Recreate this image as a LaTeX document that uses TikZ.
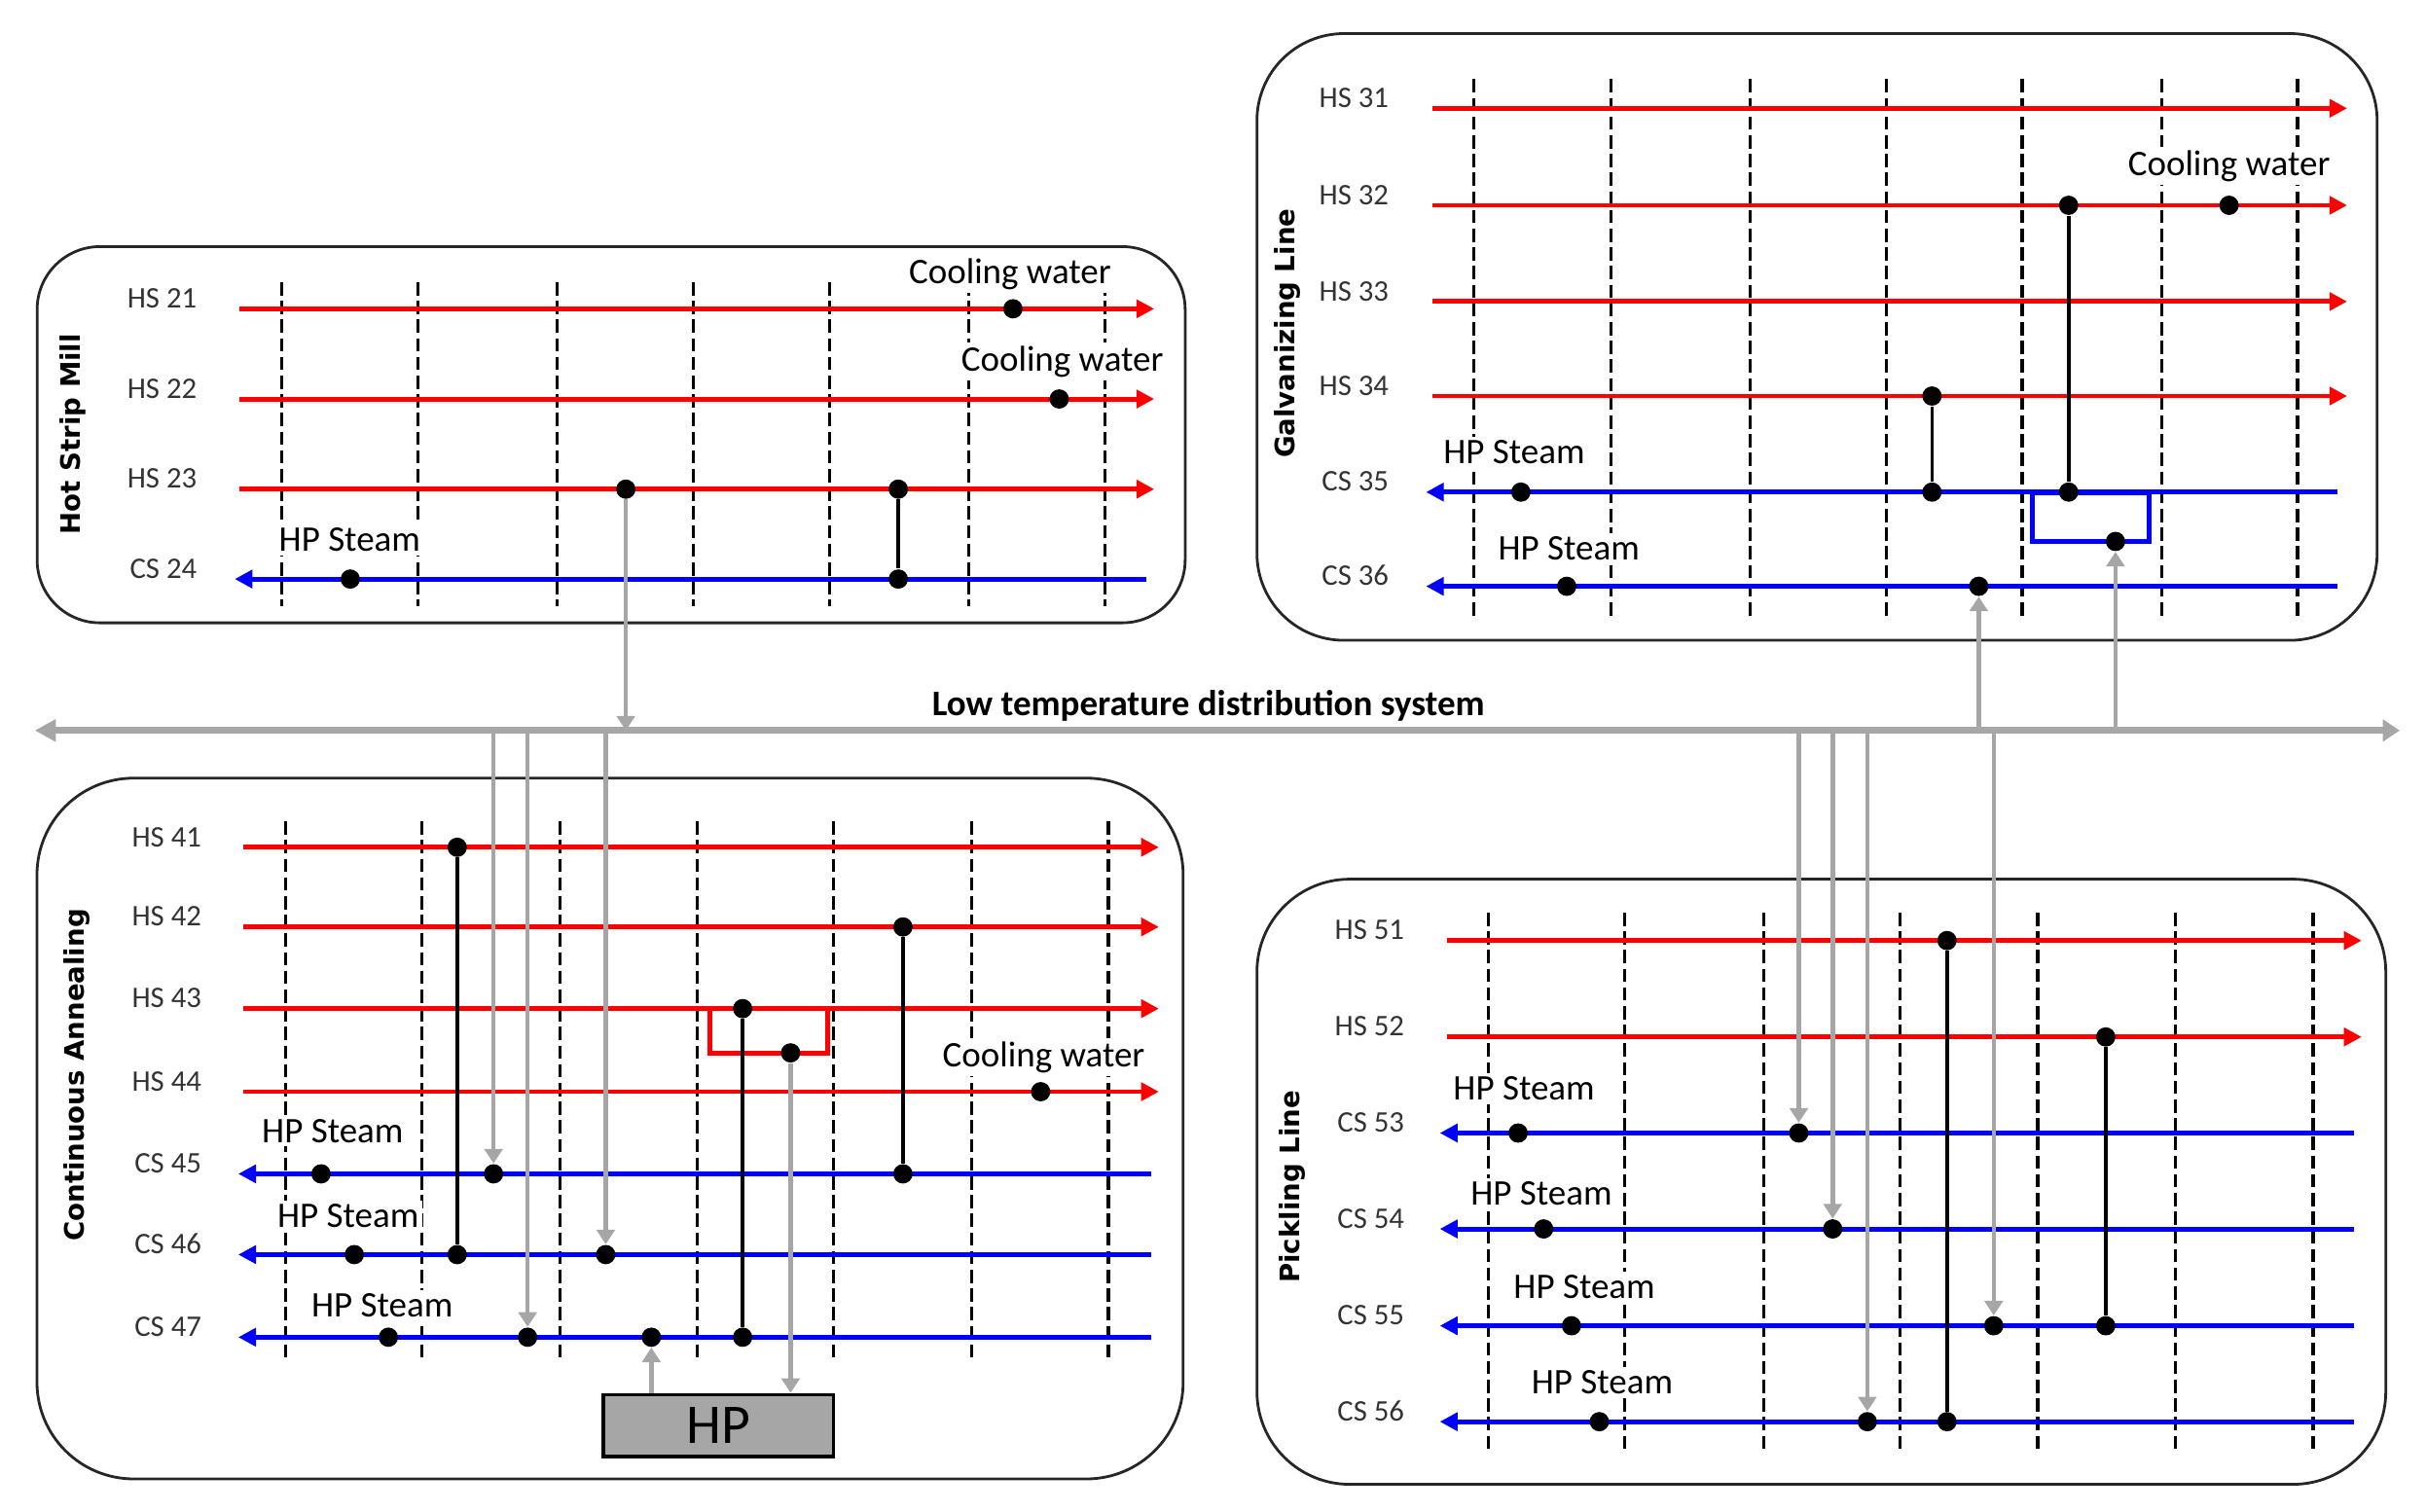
\documentclass[tikz,border=0pt]{standalone}
\usepackage{fontspec}
\setmainfont{Carlito}
\newfontfamily\zonefont{DejaVu Sans}
\usetikzlibrary{arrows.meta}
\definecolor{ltgray}{RGB}{166,166,166}
\tikzset{
  panel/.style={draw=black!85, line width=0.8pt},
  grid/.style={black, line width=0.9pt, dash pattern=on 3.9pt off 1.6pt},
  hot/.style={red, line width=1.4pt, -{Triangle[length=5.2pt,width=5.2pt]}},
  cold/.style={blue, line width=1.4pt, -{Triangle[length=5.2pt,width=5.2pt]}},
  dot/.style={circle, fill=black, inner sep=0pt, minimum size=0.2cm},
  match/.style={black, line width=1pt},
  ltd/.style={ltgray, line width=1.3pt, -{Triangle[length=4.3pt,width=5.3pt]}},
  main/.style={ltgray, line width=2.1pt, {Triangle[length=6.2pt,width=6.3pt]}-{Triangle[length=5pt,width=6.3pt]}},
  tag/.style={anchor=base east, inner sep=0pt, text=black!80, font=\fontsize{8.8}{10}\selectfont},
  util/.style={anchor=base, fill=white, inner sep=1pt, font=\fontsize{10.6}{12}\selectfont},
  zone/.style={rotate=90, font=\zonefont\bfseries\fontsize{7.9}{9}\selectfont},
  hpbox/.style={draw=black, line width=1pt, fill=ltgray, minimum width=2.38cm, minimum height=0.64cm, inner sep=0pt, font=\fontsize{16.5}{18}\selectfont}
}
\begin{document}
\begin{tikzpicture}[x=0.016cm, y=-0.016cm]
\useasboundingbox (0,0) rectangle (1568,977);

\draw[panel, rounded corners=0.65cm] (24,159.4) rectangle (766,402.6);
\draw[panel, rounded corners=0.9cm] (812.4,21.7) rectangle (1536.4,413.9);
\draw[panel, rounded corners=1cm] (23.9,503) rectangle (764.7,956);
\draw[panel, rounded corners=0.96cm] (812.4,568.3) rectangle (1542,959.5);

\node[zone] (hsm) at (47,280.6) {Hot Strip Mill};
\node[zone] (gal) at (832,215.6) {Galvanizing Line};
\node[zone] (can) at (50,695) {Continuous Annealing};
\node[zone] (pic) at (835,767.3) {Pickling Line};

\foreach \x in {182,270,360,448,536,626,714} \draw[grid] (\x,182.4) -- (\x,392);
\foreach \x in {952.3,1041,1131,1219,1307,1397,1485} \draw[grid] (\x,51.2) -- (\x,398.5);
\foreach \x in {184.6,272.6,362,450.7,538.8,627.9,716.4} \draw[grid] (\x,530.9) -- (\x,880);
\foreach \x in {962,1050,1140,1228,1317,1406,1495} \draw[grid] (\x,589.9) -- (\x,936.6);

\node[util] (cw21) at (652.8,183.2) {Cooling water};
\node[util] (cw22) at (686.6,239.8) {Cooling water};
\node[util] (hp24) at (226,356.5) {HP Steam};
\node[util] (cw32) at (1440.7,113.6) {Cooling water};
\node[util] (hp35) at (978.6,299.5) {HP Steam};
\node[util] (hp36) at (1014,362.1) {HP Steam};
\node[util] (cw44) at (674.6,689.5) {Cooling water};
\node[util] (hp45) at (215,738.5) {HP Steam};
\node[util] (hp46) at (225,793.5) {HP Steam};
\node[util] (hp47) at (247,851.5) {HP Steam};
\node[util] (hp53) at (985,711.3) {HP Steam};
\node[util] (hp54) at (996.2,779) {HP Steam};
\node[util] (hp55) at (1024,839.4) {HP Steam};
\node[util] (hp56) at (1035.6,900.9) {HP Steam};

\foreach \n/\y in {21/199.6,22/257.9,23/316.2}{
  \node[tag] (t\n) at (127.6,\y-0.5) {HS \n};
  \coordinate (s\n) at (154.7,\y); \coordinate (e\n) at (746,\y);
  \draw[hot] (s\n) -- (e\n);
}
\node[tag] (t24) at (127.6,373.8) {CS 24};
\coordinate (s24) at (741,374.3); \coordinate (e24) at (151.7,374.3);
\draw[cold] (s24) -- (e24);

\foreach \n/\y in {31/70,32/132.7,33/194.9,34/256}{
  \node[tag] (t\n) at (898,\y-0.5) {HS \n};
  \coordinate (s\n) at (925.6,\y); \coordinate (e\n) at (1517,\y);
  \draw[hot] (s\n) -- (e\n);
}
\foreach \n/\y in {35/318.1,36/379}{
  \node[tag] (t\n) at (898,\y-0.5) {CS \n};
  \coordinate (s\n) at (1511,\y); \coordinate (e\n) at (921.7,\y);
  \draw[cold] (s\n) -- (e\n);
}

\foreach \n/\y in {41/547.7,42/599.2,43/652,44/705.7}{
  \node[tag] (t\n) at (130.6,\y-0.5) {HS \n};
  \coordinate (s\n) at (157,\y); \coordinate (e\n) at (749,\y);
  \draw[hot] (s\n) -- (e\n);
}
\foreach \n/\y in {45/758.8,46/811,47/864.4}{
  \node[tag] (t\n) at (130.6,\y-0.5) {CS \n};
  \coordinate (s\n) at (744,\y); \coordinate (e\n) at (154,\y);
  \draw[cold] (s\n) -- (e\n);
}

\foreach \n/\y in {51/608,52/670.3}{
  \node[tag] (t\n) at (908,\y-0.5) {HS \n};
  \coordinate (s\n) at (935,\y); \coordinate (e\n) at (1526.4,\y);
  \draw[hot] (s\n) -- (e\n);
}
\foreach \n/\y in {53/732.4,54/794.4,55/857,56/919}{
  \node[tag] (t\n) at (908,\y-0.5) {CS \n};
  \coordinate (s\n) at (1521.5,\y); \coordinate (e\n) at (930.6,\y);
  \draw[cold] (s\n) -- (e\n);
}

\draw[red, line width=1.5pt] (459,652) rectangle (535,680.6);
\draw[blue, line width=1.5pt] (1313.8,318.6) rectangle (1389.2,350);

\coordinate (lw) at (22.5,472.2);
\coordinate (le) at (1551,472.2);
\draw[main] (lw) -- (le);
\node[anchor=base, inner sep=0pt, font=\bfseries\fontsize{10.6}{12}\selectfont] (ltds) at (781,462.3) {Low temperature distribution system};

\node[dot] (d21a) at (654.7,199.6) {};
\node[dot] (d22a) at (684.6,257.9) {};
\node[dot] (d23a) at (404.5,316.2) {};
\node[dot] (d23b) at (580.6,316.2) {};
\node[dot] (d24a) at (226.4,374.3) {};
\node[dot] (d24b) at (580.6,374.3) {};

\node[dot] (d32a) at (1337,132.7) {};
\node[dot] (d32b) at (1440.7,132.7) {};
\node[dot] (d34a) at (1248.7,256) {};
\node[dot] (d35a) at (983,318.1) {};
\node[dot] (d35b) at (1248.7,318.1) {};
\node[dot] (d35c) at (1337,318.1) {};
\node[dot] (d35d) at (1367.3,350) {};
\node[dot] (d36a) at (1012.6,379) {};
\node[dot] (d36b) at (1278.9,379) {};

\node[dot] (d41a) at (295.5,547.7) {};
\node[dot] (d42a) at (583.6,599.2) {};
\node[dot] (d43a) at (480,652) {};
\node[dot] (d43b) at (511,680.6) {};
\node[dot] (d44a) at (672.6,705.7) {};
\node[dot] (d45a) at (207.5,758.8) {};
\node[dot] (d45b) at (319,758.8) {};
\node[dot] (d45c) at (583.6,758.8) {};
\node[dot] (d46a) at (229,811) {};
\node[dot] (d46b) at (295.5,811) {};
\node[dot] (d46c) at (391.5,811) {};
\node[dot] (d47a) at (251,864.4) {};
\node[dot] (d47b) at (341,864.4) {};
\node[dot] (d47c) at (421,864.4) {};
\node[dot] (d47d) at (480,864.4) {};

\node[dot] (d51a) at (1258.4,608) {};
\node[dot] (d52a) at (1361,670.3) {};
\node[dot] (d53a) at (981.2,732.4) {};
\node[dot] (d53b) at (1162.6,732.4) {};
\node[dot] (d54a) at (997.7,794.4) {};
\node[dot] (d54b) at (1184.5,794.4) {};
\node[dot] (d55a) at (1015.7,857) {};
\node[dot] (d55b) at (1288.6,857) {};
\node[dot] (d55c) at (1361,857) {};
\node[dot] (d56a) at (1033.7,919) {};
\node[dot] (d56b) at (1206.9,919) {};
\node[dot] (d56c) at (1258.4,919) {};

\node[hpbox] (hp) at (464.4,921.5) {HP};

\draw[match] (d23b) -- (d24b);
\draw[match] (d34a) -- (d35b);
\draw[match] (d32a) -- (d35c);
\draw[match] (d41a) -- (d46b);
\draw[match] (d42a) -- (d45c);
\draw[match] (d43a) -- (d47d);
\draw[match] (d51a) -- (d56c);
\draw[match] (d52a) -- (d55c);

\draw[ltd] (d23a) -- (d23a |- lw);
\draw[ltd] (d36b |- lw) -- (d36b);
\draw[ltd] (d35d |- lw) -- (d35d);
\draw[ltd] (d45b |- lw) -- (d45b);
\draw[ltd] (d47b |- lw) -- (d47b);
\draw[ltd] (d46c |- lw) -- (d46c);
\draw[ltd] (d47c |- hp.north) -- (d47c);
\draw[ltd] (d43b) -- (d43b |- hp.north);
\draw[ltd] (d53b |- lw) -- (d53b);
\draw[ltd] (d54b |- lw) -- (d54b);
\draw[ltd] (d56b |- lw) -- (d56b);
\draw[ltd] (d55b |- lw) -- (d55b);
\end{tikzpicture}
\end{document}
